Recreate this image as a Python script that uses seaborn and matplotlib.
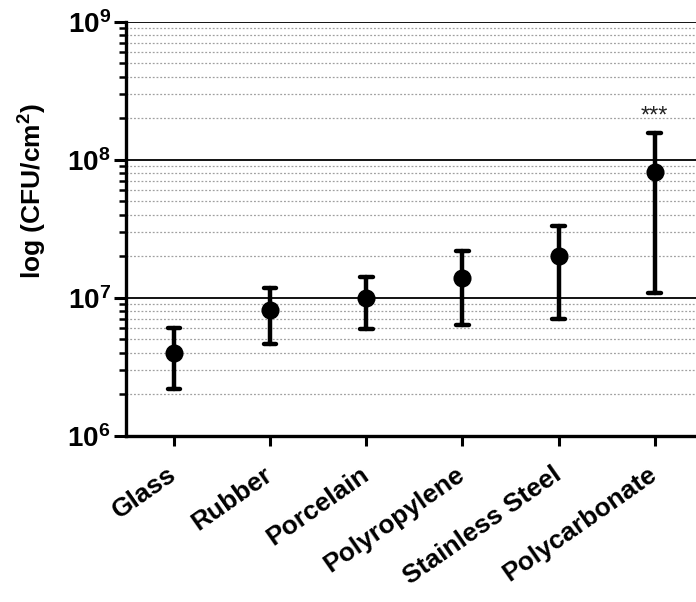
import numpy as np
import pandas as pd
import seaborn as sns
import matplotlib.pyplot as plt
from matplotlib.ticker import LogLocator, FixedLocator

surfaces = ["Glass", "Rubber", "Porcelain", "Polyropylene", "Stainless Steel", "Polycarbonate"]
mean_cfu = [4.0e6, 8.1e6, 1.0e7, 1.4e7, 2.0e7, 8.2e7]
lower_cfu = [2.2e6, 4.6e6, 5.9e6, 6.4e6, 7.0e6, 1.08e7]
upper_cfu = [6.0e6, 1.18e7, 1.42e7, 2.2e7, 3.3e7, 1.55e8]
signif = ["", "", "", "", "", "***"]

# long table: low / mean / high per surface -> median = mean, min/max = bar ends
rows = []
for s, lo, m, hi in zip(surfaces, lower_cfu, mean_cfu, upper_cfu):
    for v in (lo, m, hi):
        rows.append({"surface": s, "cfu": v})
df = pd.DataFrame(rows)

sns.set_style("white")
plt.rcParams["font.family"] = ["Liberation Sans", "DejaVu Sans"]
plt.rcParams["mathtext.fontset"] = "custom"
plt.rcParams["mathtext.rm"] = "Liberation Sans:bold"
plt.rcParams["mathtext.bf"] = "Liberation Sans:bold"
plt.rcParams["mathtext.it"] = "Liberation Sans:bold"
plt.rcParams["text.color"] = "black"
plt.rcParams["axes.labelcolor"] = "black"
plt.rcParams["xtick.color"] = "black"
plt.rcParams["ytick.color"] = "black"

fig = plt.figure(figsize=(6.96, 6.02), dpi=100)
ax = fig.add_axes([0.181, 0.276, 0.819, 0.688])
ax.set_yscale("log")

sns.pointplot(data=df, x="surface", y="cfu", order=surfaces,
              estimator="median", errorbar=lambda v: (v.min(), v.max()),
              color="black", linestyle="none", markers="o", markersize=11,
              err_kws={"linewidth": 3.2}, capsize=0.13, ax=ax)

ax.set_ylim(1e6, 1e9)
ax.set_xlim(-0.5, 5.43)

ax.yaxis.set_major_locator(FixedLocator([1e6, 1e7, 1e8, 1e9]))
ax.yaxis.set_minor_locator(LogLocator(base=10, subs=np.arange(2, 10)))
ax.yaxis.set_minor_formatter(plt.NullFormatter())
ax.set_yticklabels(["$10^{6}$", "$10^{7}$", "$10^{8}$", "$10^{9}$"])

ax.grid(True, which="major", axis="y", color="black", linewidth=1.3)
ax.grid(True, which="minor", axis="y", color="#a0a0a0", linewidth=0.9, linestyle=(0, (1.5, 1.5)))
ax.grid(False, axis="x")
ax.set_axisbelow(True)

for sp in ["top", "right"]:
    ax.spines[sp].set_visible(False)
for sp in ["left", "bottom"]:
    ax.spines[sp].set_linewidth(2.4)
    ax.spines[sp].set_color("black")

ax.tick_params(axis="y", which="major", length=9, width=2.2, labelsize=20, direction="out", left=True, pad=2)
ax.tick_params(axis="y", which="minor", length=5, width=1.8, direction="out", left=True)
ax.tick_params(axis="x", which="major", length=7, width=2.2, direction="out", bottom=True, pad=19)

ax.set_xticks(range(len(surfaces)))
ax.set_xticklabels(surfaces, rotation=35, ha="right", va="center", rotation_mode="anchor",
                   fontsize=19, fontweight="bold")

ax.set_xlabel("")
ax.set_ylabel("log (CFU/cm$^{2}$)", fontsize=19, fontweight="bold")
ax.yaxis.set_label_coords(-0.135, 0.59)

for i, (txt, hi) in enumerate(zip(signif, upper_cfu)):
    if txt:
        ax.text(i, hi * 1.1, txt, ha="center", va="bottom", fontsize=17, color="#222222")

fig.savefig("out.png", dpi=100)
